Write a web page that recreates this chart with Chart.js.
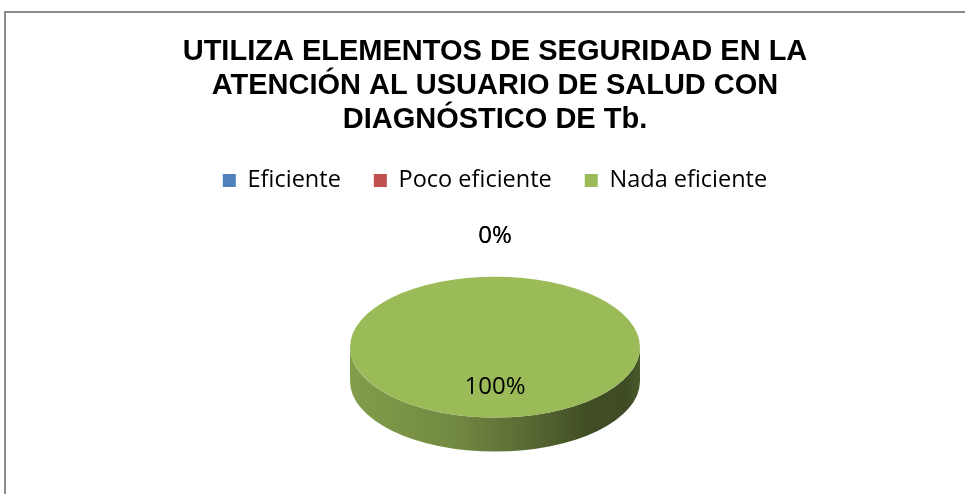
<!DOCTYPE html>
<html>
<head>
<meta charset="utf-8">
<script src="https://cdn.jsdelivr.net/npm/chart.js@4/dist/chart.umd.min.js"></script>
<style>
  html, body { margin: 0; padding: 0; background: #fff; overflow: hidden; }
  #frame {
    position: absolute; left: 4px; top: 11px;
    width: 990px; height: 500px;
    border-left: 2px solid #8c8c8c; border-top: 2px solid #8c8c8c;
  }
  #chart { display: block; }
</style>
</head>
<body>
<div id="frame"><canvas id="chart" width="978" height="498"></canvas></div>
<script>
// data (percent of answers)
const categories = ["Eficiente", "Poco eficiente", "Nada eficiente"];
const values = [0, 0, 100];
const sliceColors = ["#4f81bd", "#c0504d", "#9bbb59"];
const titleLines = [
  "UTILIZA ELEMENTOS DE SEGURIDAD EN LA",
  "ATENCIÓN AL USUARIO DE SALUD CON",
  "DIAGNÓSTICO DE Tb."
];

const tilt = 0.486;   // vertical squash of the pie
const depth = 34;     // height of the pie side

function shade(hex, f) {
  var n = parseInt(hex.slice(1), 16);
  var r = Math.round(((n >> 16) & 255) * f);
  var g = Math.round(((n >> 8) & 255) * f);
  var b = Math.round((n & 255) * f);
  return "rgb(" + r + "," + g + "," + b + ")";
}

// fake 3D: draw the side, then squash the top face
const pie3d = {
  id: "pie3d",
  beforeDatasetsDraw(chart) {
    var ctx = chart.ctx;
    var arcs = chart.getDatasetMeta(0).data;
    var cx = arcs[0].x, cy = arcs[0].y, r = arcs[0].outerRadius;

    arcs.forEach(function (arc, i) {
      var a0 = Math.max(arc.startAngle, 0);
      var a1 = Math.min(arc.endAngle, Math.PI);
      if (values[i] === 0 || a1 <= a0) return;
      var base = sliceColors[i];
      var grad = ctx.createLinearGradient(cx - r, 0, cx + r, 0);
      grad.addColorStop(0, shade(base, 0.84));
      grad.addColorStop(0.35, shade(base, 0.74));
      grad.addColorStop(0.6, shade(base, 0.58));
      grad.addColorStop(0.82, shade(base, 0.41));
      grad.addColorStop(0.95, shade(base, 0.40));
      grad.addColorStop(1, shade(base, 0.48));
      ctx.save();
      ctx.beginPath();
      ctx.ellipse(cx, cy, r, r * tilt, 0, a0, a1, false);
      ctx.ellipse(cx, cy + depth, r, r * tilt, 0, a1, a0, true);
      ctx.closePath();
      ctx.fillStyle = grad;
      ctx.fill();
      ctx.restore();
    });

    ctx.save();
    ctx.translate(cx, cy);
    ctx.scale(1, tilt);
    ctx.translate(-cx, -cy);
  },
  afterDatasetsDraw(chart) {
    var ctx = chart.ctx;
    ctx.restore();

    var arcs = chart.getDatasetMeta(0).data;
    var total = values.reduce(function (s, v) { return s + v; }, 0);
    ctx.save();
    ctx.font = "24px 'Open Sans'";
    ctx.fillStyle = "#000";
    ctx.textAlign = "center";
    ctx.textBaseline = "middle";
    arcs.forEach(function (arc, i) {
      var mid = (arc.startAngle + arc.endAngle) / 2;
      var dist = values[i] > 0 ? 0.57 * arc.outerRadius : 1.58 * arc.outerRadius;
      var x = arc.x + Math.cos(mid) * dist;
      var y = arc.y + Math.sin(mid) * dist * tilt;
      var pct = total > 0 ? Math.round(values[i] / total * 100) : 0;
      ctx.fillText(pct + "%", x, y);
    });
    ctx.restore();
  }
};

const ctx = document.getElementById("chart").getContext("2d");
new Chart(ctx, {
  type: "pie",
  data: {
    labels: categories,
    datasets: [{
      data: values,
      backgroundColor: sliceColors,
      borderWidth: 0,
      radius: 145
    }]
  },
  plugins: [pie3d],
  options: {
    responsive: false,
    animation: false,
    events: [],
    layout: { padding: { bottom: 19 } },
    plugins: {
      tooltip: { enabled: false },
      title: {
        display: true,
        text: titleLines,
        color: "#000",
        font: { family: "'Liberation Sans', Arial", size: 29, weight: "bold", lineHeight: 1.17 },
        padding: { top: 22, bottom: -1 }
      },
      legend: {
        position: "top",
        labels: {
          color: "#000",
          font: { family: "'Open Sans'", size: 23.5, lineHeight: 1 },
          boxWidth: 13,
          boxHeight: 13,
          padding: 33
        }
      }
    }
  }
});
</script>
</body>
</html>
